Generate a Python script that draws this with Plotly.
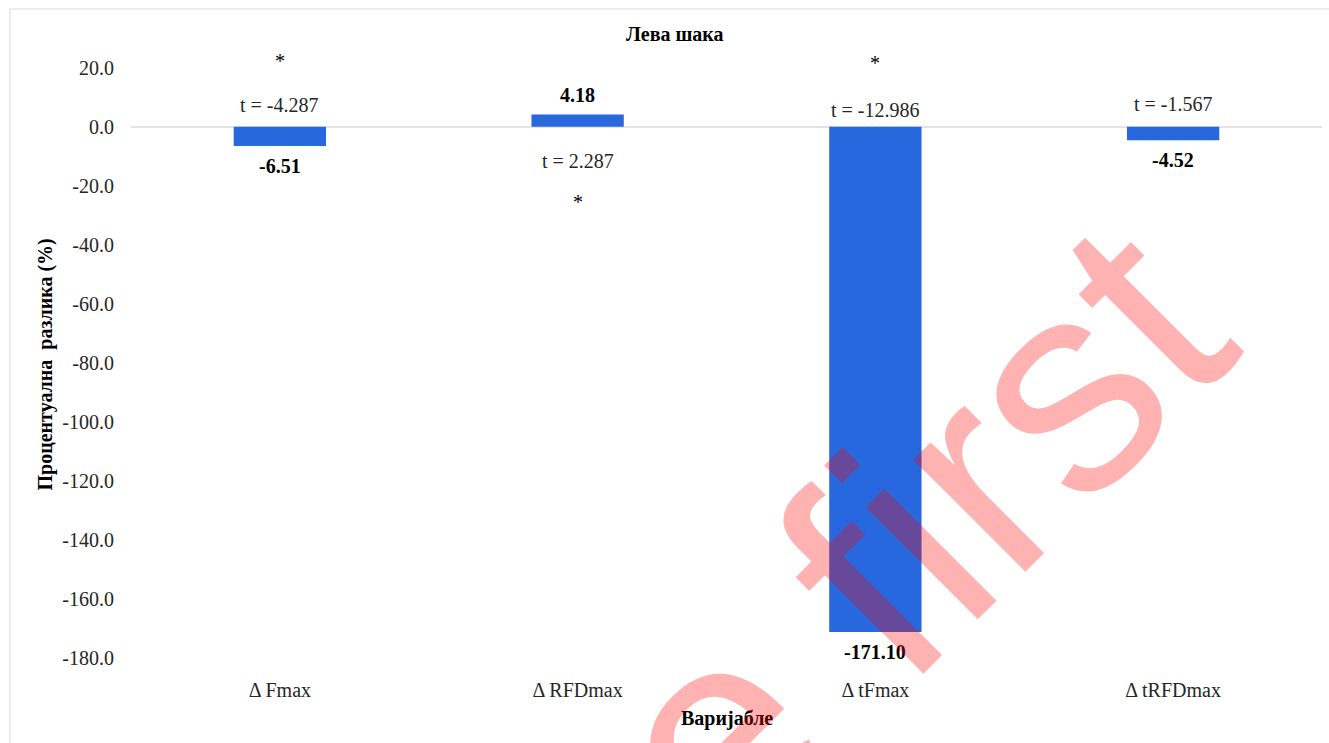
import plotly.graph_objects as go

# ---- data ----
categories = ["Δ Fmax", "Δ RFDmax", "Δ tFmax", "Δ tRFDmax"]
pct_diff = [-6.51, 4.18, -171.10, -4.52]
t_values = [-4.287, 2.287, -12.986, -1.567]
significant = [True, True, True, False]
y_tick_values = [20, 0, -20, -40, -60, -80, -100, -120, -140, -160, -180]
y_tick_labels = [f"{v:.1f}" for v in y_tick_values]

# ---- layout constants ----
W, H = 1329, 743
M_L, M_R, M_T, M_B = 131, 7, 53, 67
Y_RANGE = [-186, 25]
BAR_COLOR = "#2768DE"
SERIF = "Liberation Serif"
TXT = "#262626"

# pixel offsets from the zero line for the t-statistic and significance marks
t_label_shift = [22, -34, 17, 23]
star_shift = [66, -75, 64, 0]

plot_w = W - M_L - M_R
plot_h = H - M_T - M_B


def px_to_paper_x(px):
    return (px - M_L) / plot_w


def px_to_paper_y(py):
    return (H - M_B - py) / plot_h


fig = go.Figure(
    go.Bar(
        x=categories,
        y=pct_diff,
        marker=dict(color=BAR_COLOR, line=dict(width=0)),
        width=0.31,
        hoverinfo="x+y",
    )
)

annotations = []
# bold value labels beyond the bar ends
for cat, v in zip(categories, pct_diff):
    annotations.append(dict(
        x=cat, y=v, xref="x", yref="y", text=f"<b>{v:.2f}</b>",
        showarrow=False, yanchor="middle", yshift=19.5 if v > 0 else -19.5,
        font=dict(family=SERIF, size=20, color="black"),
    ))
# t statistics and significance asterisks
for cat, t, sig, ts, ss in zip(categories, t_values, significant, t_label_shift, star_shift):
    annotations.append(dict(
        x=cat, y=0, xref="x", yref="y", text=f"t = {t:.3f}",
        showarrow=False, yanchor="middle", yshift=ts,
        font=dict(family=SERIF, size=20, color=TXT),
    ))
    if sig:
        annotations.append(dict(
            x=cat, y=0, xref="x", yref="y", text="*",
            showarrow=False, yanchor="middle", yshift=ss,
            font=dict(family=SERIF, size=20, color="black"),
        ))

# chart title and axis titles
annotations.append(dict(
    x=px_to_paper_x(675), y=px_to_paper_y(34), xref="paper", yref="paper",
    text="<b>Лева шака</b>", showarrow=False, xanchor="center", yanchor="middle",
    font=dict(family=SERIF, size=20, color="black"),
))
annotations.append(dict(
    x=px_to_paper_x(45), y=0.5, xref="paper", yref="paper",
    text="<b>Процентуална  разлика (%)</b>", showarrow=False, textangle=-90,
    xanchor="center", yanchor="middle",
    font=dict(family=SERIF, size=20, color="black"),
))
annotations.append(dict(
    x=0.5, y=px_to_paper_y(718), xref="paper", yref="paper",
    text="<b>Варијабле</b>", showarrow=False, xanchor="center", yanchor="middle",
    font=dict(family=SERIF, size=20, color="black"),
))
# watermark
annotations.append(dict(
    x=px_to_paper_x(666), y=px_to_paper_y(784), xref="paper", yref="paper",
    text="Online first", showarrow=False, textangle=-45,
    xanchor="center", yanchor="middle",
    font=dict(family="Liberation Sans", size=300,
              color="rgba(255,0,0,0.3)"),
))

fig.update_layout(
    width=W, height=H,
    margin=dict(l=M_L, r=M_R, t=M_T, b=M_B),
    paper_bgcolor="white", plot_bgcolor="white",
    showlegend=False,
    bargap=0.69,
    font=dict(family=SERIF, size=20, color=TXT),
    annotations=annotations,
    shapes=[dict(
        type="rect", xref="paper", yref="paper",
        x0=px_to_paper_x(10), x1=px_to_paper_x(W + 20),
        y0=px_to_paper_y(H + 20), y1=px_to_paper_y(9),
        line=dict(color="#d9d9d9", width=1), fillcolor="rgba(0,0,0,0)",
        layer="below",
    )],
    xaxis=dict(
        showgrid=False, showline=False, zeroline=False, ticks="",
        tickfont=dict(family=SERIF, size=20, color=TXT),
    ),
    yaxis=dict(
        range=Y_RANGE, showgrid=False, showline=False,
        zeroline=True, zerolinecolor="#e3e3e3", zerolinewidth=1.5,
        tickvals=y_tick_values, ticktext=y_tick_labels, ticks="",
        ticklabelstandoff=16,
        tickfont=dict(family=SERIF, size=20, color=TXT),
    ),
)

fig.write_html("out.html")
